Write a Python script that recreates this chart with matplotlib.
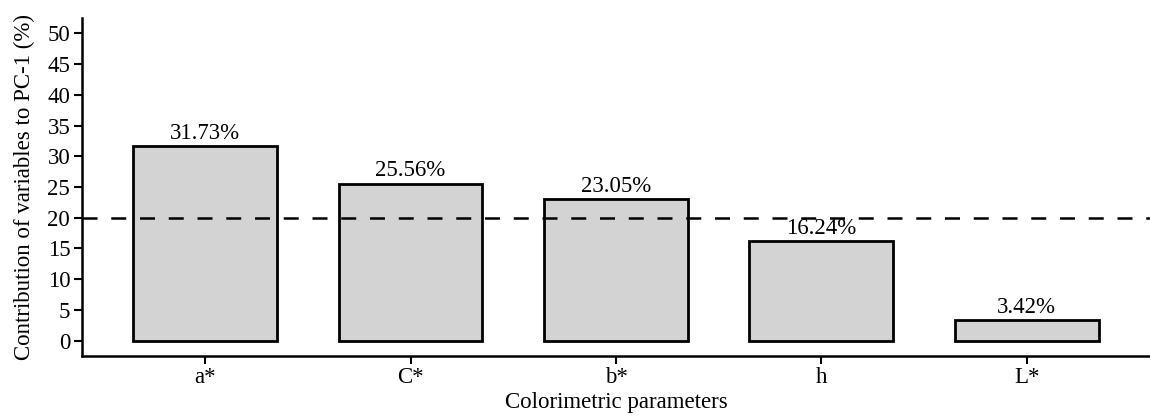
import matplotlib
matplotlib.use("Agg")
import matplotlib.pyplot as plt

categories = ["a*", "C*", "b*", "h", "L*"]
values = [31.73, 25.56, 23.05, 16.24, 3.42]
threshold = 20
yticks = [0, 5, 10, 15, 20, 25, 30, 35, 40, 45, 50]

plt.rcParams['font.family'] = ['Liberation Serif', 'DejaVu Serif']
FS = 16.5
plt.rcParams['font.size'] = FS

fig = plt.figure(figsize=(11.5, 4.16), dpi=100)
ax = fig.add_axes([0.0713, 0.1442, 0.9287, 0.8125])

x = list(range(1, len(categories) + 1))
ax.bar(x, values, width=0.7, color='#D3D3D3', edgecolor='black', linewidth=2, zorder=2)
for xi, v in zip(x, values):
    ax.annotate(f"{v:.2f}%", (xi, v), xytext=(0, 1.5), textcoords='offset points',
                ha='center', va='bottom', fontsize=FS, color='black')

ax.axhline(threshold, color='black', linestyle=(0, (6, 5.5)), linewidth=1.8, zorder=3)

ax.set_xlim(0.4, 5.6)
ax.set_ylim(-2.5, 52.5)
ax.set_xticks(x)
ax.set_xticklabels(categories)
ax.set_yticks(yticks)
for s in ['top', 'right']:
    ax.spines[s].set_visible(False)
for s in ['left', 'bottom']:
    ax.spines[s].set_linewidth(1.8)
ax.tick_params(axis='both', length=5.5, width=1.5, color='black', labelcolor='black', labelsize=FS)
ax.tick_params(axis='y', pad=3)
ax.tick_params(axis='x', pad=2.5)
ax.set_xlabel("Colorimetric parameters", fontsize=FS, labelpad=2.5)
ax.set_ylabel("Contribution of variables to PC-1 (%)", fontsize=FS, labelpad=9)

fig.savefig("out.png", dpi=100)
